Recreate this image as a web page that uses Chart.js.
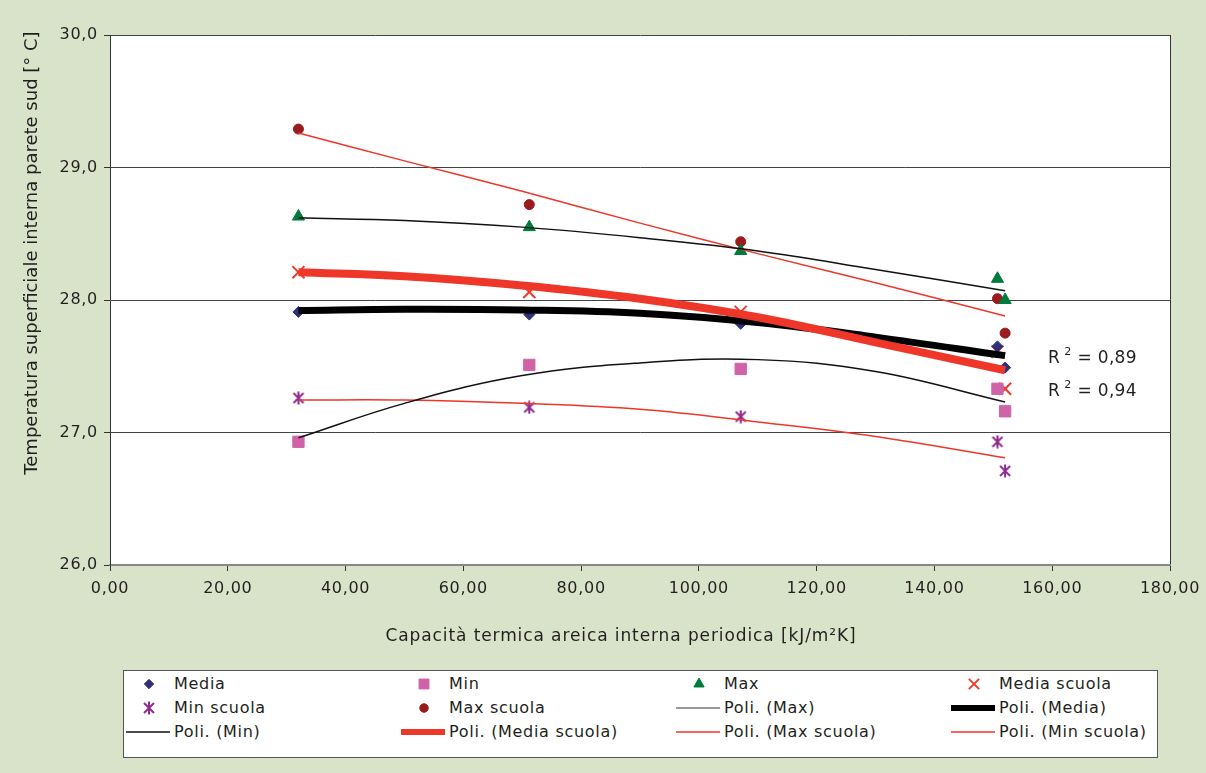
<!DOCTYPE html>
<html>
<head>
<meta charset="utf-8">
<script src="https://cdn.jsdelivr.net/npm/chart.js@4/dist/chart.umd.min.js"></script>
<style>
    html, body { margin: 0; padding: 0; background: #d9e3ca; }
    #wrap { position: relative; width: 1206px; height: 773px; }
    #legend {
        position: absolute; left: 123px; top: 670px; width: 1033px; height: 86px;
        background: #fff; border: 1px solid #555;
        font: 16px "DejaVu Sans", sans-serif; letter-spacing: 0.7px; color: #231f20;
    }
    .item { position: absolute; height: 24px; line-height: 24px; white-space: nowrap; }
    .item canvas { position: absolute; top: 0; }
</style>
</head>
<body>
<div id="wrap">
    <canvas id="chart" width="1206" height="773"></canvas>
    <div id="legend"></div>
</div>
<script>
// measured points
const xValues = [32.0, 71.2, 107.1, 150.7, 152.0];
const media = [27.91, 27.89, 27.82, 27.65, 27.49];
const minVals = [26.93, 27.51, 27.48, 27.33, 27.16];
const maxVals = [28.63, 28.55, 28.37, 28.16, 28.00];
const mediaScuola = [28.21, 28.06, 27.91, 27.61, 27.33];
const minScuola = [27.26, 27.19, 27.12, 26.93, 26.71];
const maxScuola = [29.29, 28.72, 28.44, 28.01, 27.75];

// polynomial trend curves
const trendX = [32, 50, 70, 90, 110, 130, 152];
const trendMax = [28.62, 28.60, 28.55, 28.47, 28.37, 28.23, 28.07];
const trendMedia = [27.92, 27.93, 27.925, 27.90, 27.83, 27.72, 27.58];
const trendMin = [26.96, 27.22, 27.43, 27.525, 27.55, 27.46, 27.23];
const trendMediaScuola = [28.21, 28.18, 28.11, 28.01, 27.87, 27.68, 27.47];
const trendMaxScuola = [29.26, 29.05, 28.82, 28.58, 28.35, 28.13, 27.88];
const trendMinScuola = [27.245, 27.245, 27.22, 27.175, 27.08, 26.97, 26.81];

const r2Texts = ['0,89', '0,94'];
const xTitle = 'Capacità termica areica interna periodica [kJ/m²K]';
const yTitle = 'Temperatura superficiale interna parete sud [° C]';

const FONT = '"DejaVu Sans", sans-serif';
const TEXT = '#231f20';

const pts = (xs, ys) => xs.map((x, i) => ({ x, y: ys[i] }));

function asterisk(color) {
    const c = document.createElement('canvas');
    c.width = 14; c.height = 14;
    const g = c.getContext('2d');
    g.strokeStyle = color;
    g.lineWidth = 2;
    g.beginPath();
    g.moveTo(2, 2); g.lineTo(12, 12);
    g.moveTo(12, 2); g.lineTo(2, 12);
    g.moveTo(7, 0.5); g.lineTo(7, 13.5);
    g.stroke();
    return c;
}

const marker = (label, ys, color, style, radius, extra = {}) => ({
    label,
    data: pts(xValues, ys),
    pointStyle: style,
    pointRadius: radius,
    backgroundColor: color,
    borderColor: color,
    borderWidth: 1,
    showLine: false,
    order: 2,
    ...extra
});

const trend = (label, ys, color, width, extra = {}) => ({
    label,
    data: pts(trendX, ys),
    borderColor: color,
    backgroundColor: color,
    borderWidth: width,
    pointRadius: 0,
    showLine: true,
    tension: 0.4,
    order: 1,
    ...extra
});

const datasets = [
    marker('Media', media, '#30307a', 'rectRot', 5.5),
    marker('Min', minVals, '#d063a8', 'rect', 8),
    marker('Max', maxVals, '#007a3d', 'triangle', 7),
    marker('Media scuola', mediaScuola, '#ee3a2c', 'crossRot', 8.5, { borderWidth: 2 }),
    marker('Min scuola', minScuola, '#8e2c91', asterisk('#8e2c91'), 7),
    marker('Max scuola', maxScuola, '#9a1b1e', 'circle', 5),
    trend('Poli. (Max)', trendMax, '#111', 1.5, { legendColor: '#777' }),
    trend('Poli. (Media)', trendMedia, '#000', 7),
    trend('Poli. (Min)', trendMin, '#111', 1.5),
    trend('Poli. (Media scuola)', trendMediaScuola, '#ee3629', 8, { order: 0 }),
    trend('Poli. (Max scuola)', trendMaxScuola, '#ee3629', 1.5),
    trend('Poli. (Min scuola)', trendMinScuola, '#ee3629', 1.5)
];

const plotBackground = {
    id: 'plotBackground',
    beforeDraw(chart) {
        const { ctx, chartArea: a } = chart;
        ctx.fillStyle = '#fff';
        ctx.fillRect(a.left, a.top, a.right - a.left, a.bottom - a.top);
        // tick labels in the original are a bit wider
        ctx.letterSpacing = '0.7px';
    },
    afterDraw(chart) {
        chart.ctx.letterSpacing = '0px';
    }
};

const textLabels = {
    id: 'textLabels',
    afterDatasetsDraw(chart) {
        const { ctx, chartArea: a, scales: { x, y } } = chart;
        ctx.save();
        ctx.fillStyle = TEXT;
        ctx.textBaseline = 'middle';
        ctx.letterSpacing = '0.3px';

        // R² values
        const px = x.getPixelForValue(159.3);
        const rows = [27.56, 27.31];
        r2Texts.forEach((t, i) => {
            const py = y.getPixelForValue(rows[i]);
            ctx.textAlign = 'left';
            ctx.font = '17px ' + FONT;
            ctx.fillText('R', px, py);
            let cx = px + ctx.measureText('R').width + 4;
            ctx.font = '11px ' + FONT;
            ctx.fillText('2', cx, py - 6);
            cx += ctx.measureText('2').width + 6;
            ctx.font = '17px ' + FONT;
            ctx.fillText('= ' + t, cx, py);
        });

        // axis titles
        ctx.textAlign = 'center';
        ctx.font = '17px ' + FONT;
        ctx.letterSpacing = '0.9px';
        ctx.fillText(xTitle, (a.left + a.right) / 2 - 19, a.bottom + 72);

        ctx.letterSpacing = '0px';
        ctx.font = '18px ' + FONT;
        ctx.translate(32, (a.top + a.bottom) / 2 - 47);
        ctx.rotate(-Math.PI / 2);
        ctx.fillText(yTitle, 0, 0);
        ctx.restore();
    }
};

const chart = new Chart(document.getElementById('chart'), {
    type: 'scatter',
    data: { datasets },
    plugins: [plotBackground, textLabels],
    options: {
        responsive: false,
        animation: false,
        layout: { padding: { top: 35, right: 34, left: 0, bottom: 0 } },
        plugins: { legend: { display: false }, tooltip: { enabled: false } },
        scales: {
            x: {
                type: 'linear',
                min: 0,
                max: 180,
                afterFit: s => { s.height = 208; },
                ticks: {
                    stepSize: 20,
                    padding: 8,
                    color: TEXT,
                    font: { family: FONT, size: 16 },
                    maxRotation: 0,
                    callback: v => v.toFixed(2).replace('.', ',')
                },
                grid: {
                    color: c => (c.tick && c.tick.value === 180 ? '#333' : 'rgba(0,0,0,0)'),
                    tickColor: '#333',
                    tickLength: 6
                },
                border: { display: true, color: '#888', width: 2 }
            },
            y: {
                min: 26,
                max: 30,
                afterFit: s => { s.width = 110; },
                ticks: {
                    stepSize: 1,
                    padding: 6,
                    color: TEXT,
                    font: { family: FONT, size: 16 },
                    callback: v => v.toFixed(1).replace('.', ',')
                },
                grid: { color: '#444', lineWidth: 1, tickColor: '#333', tickLength: 6 },
                border: { display: true, color: '#333', width: 1 }
            }
        }
    }
});

// html legend, four columns
const legend = document.getElementById('legend');
datasets.forEach((ds, i) => {
    const col = i % 4, row = Math.floor(i / 4);
    const item = document.createElement('div');
    item.className = 'item';
    item.style.left = (col * 275) + 'px';
    item.style.top = (1 + row * 24) + 'px';
    item.style.paddingLeft = '50px';

    const c = document.createElement('canvas');
    c.width = 48; c.height = 24;
    c.style.left = '0px';
    const g = c.getContext('2d');
    if (ds.showLine) {
        g.strokeStyle = ds.legendColor || ds.borderColor;
        g.lineWidth = Math.min(ds.borderWidth, 6);
        g.beginPath();
        g.moveTo(2, 12); g.lineTo(46, 12);
        g.stroke();
    } else {
        g.fillStyle = ds.backgroundColor;
        g.strokeStyle = ds.borderColor;
        g.lineWidth = ds.borderWidth;
        const r = ds.pointStyle === 'rect' ? 7 : ds.pointRadius * 0.85;
        Chart.helpers.drawPoint(g, { pointStyle: ds.pointStyle, radius: r, borderWidth: ds.borderWidth, rotation: 0 }, 25, 12);
    }
    item.appendChild(c);
    item.appendChild(document.createTextNode(ds.label));
    legend.appendChild(item);
});
</script>
</body>
</html>
